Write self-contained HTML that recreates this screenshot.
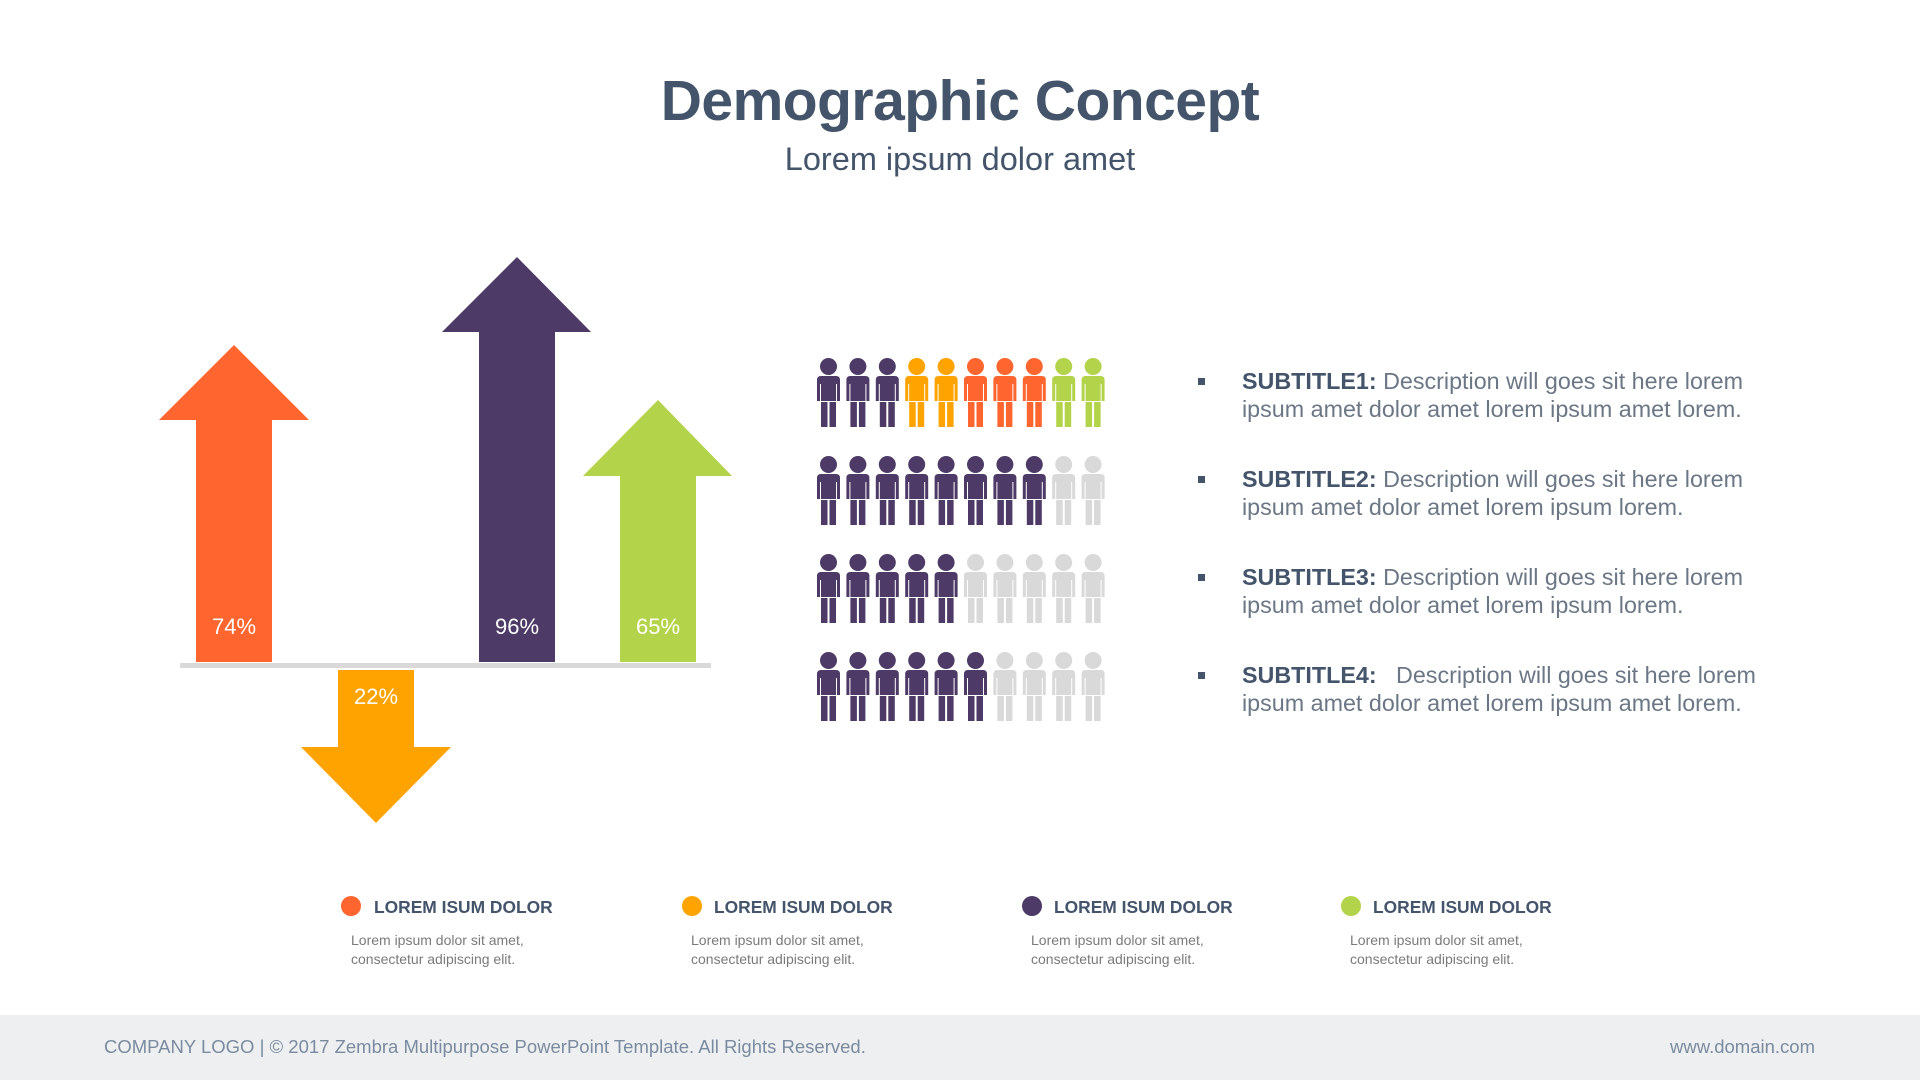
<!DOCTYPE html>
<html><head><meta charset="utf-8"><style>
body{margin:0;width:1920px;height:1080px;background:#fff;position:relative;overflow:hidden;font-family:"Liberation Sans",sans-serif;}
.a{position:absolute}
h1{position:absolute;top:68px;left:0;width:1920px;text-align:center;margin:0;font-size:57px;color:#44546a;font-weight:bold;letter-spacing:-0.5px}
.sub{top:141px;left:0;width:1920px;text-align:center;font-size:32.5px;color:#44546a}
.b{left:1242px;width:560px;font-size:23.3px;line-height:28px;color:#6b7785}
.b b{color:#44546a}
.sq{left:1198px;width:7px;height:7px;background:#44546a}
.lt{font-size:17.4px;font-weight:bold;color:#44546a}
.ld{font-size:14px;line-height:19px;color:#7a7a7a}
.dot{width:20px;height:20px;border-radius:50%}
.pct{color:#fff;font-size:22px;width:76px;text-align:center}
</style></head><body>
<h1>Demographic Concept</h1>
<div class="a sub">Lorem ipsum dolor amet</div>

<svg class="a" style="left:0;top:0" width="1920" height="1080">
<defs>
<g id="p"><circle cx="11.5" cy="8.5" r="8.5"/><path d="M4 18h15q4 0 4 4v21h-3v-17h-1v17h-15v-17h-1v17h-3v-21q0-4 4-4z"/><rect x="4" y="44" width="6.5" height="25"/><rect x="12.5" y="44" width="6.5" height="25"/></g>
</defs>
<polygon fill="#ff652f" points="234,345 309,420 272,420 272,662 196,662 196,420 159,420"/>
<polygon fill="#4d3a66" points="517,257 591,332 555,332 555,662 479,662 479,332 442,332"/>
<polygon fill="#b3d34a" points="658,400 732,476 696,476 696,662 620,662 620,476 583,476"/>
<polygon fill="#ffa300" points="338,670 414,670 414,747 451,747 376,823 301,747 338,747"/>
<rect x="180" y="663" width="531" height="5" fill="#d9d9d9"/>
<g id="rows"></g>
</svg>
<div class="a pct" style="left:196px;top:614px">74%</div>
<div class="a pct" style="left:479px;top:614px">96%</div>
<div class="a pct" style="left:620px;top:614px">65%</div>
<div class="a pct" style="left:338px;top:684px">22%</div>

<div class="a sq" style="top:378px"></div>
<div class="a b" style="top:367px"><b>SUBTITLE1:</b> Description will goes sit here lorem ipsum amet dolor amet lorem ipsum amet lorem.</div>
<div class="a sq" style="top:476px"></div>
<div class="a b" style="top:465px"><b>SUBTITLE2:</b> Description will goes sit here lorem ipsum amet dolor amet lorem ipsum lorem.</div>
<div class="a sq" style="top:574px"></div>
<div class="a b" style="top:563px"><b>SUBTITLE3:</b> Description will goes sit here lorem ipsum amet dolor amet lorem ipsum lorem.</div>
<div class="a sq" style="top:672px"></div>
<div class="a b" style="top:661px"><b>SUBTITLE4:</b>&nbsp;&nbsp; Description will goes sit here lorem ipsum amet dolor amet lorem ipsum amet lorem.</div>

<div class="a dot" style="left:341px;top:896px;background:#ff652f"></div>
<div class="a lt" style="left:374px;top:897px">LOREM ISUM DOLOR</div>
<div class="a ld" style="left:351px;top:931px">Lorem ipsum dolor sit amet,<br>consectetur adipiscing elit.</div>
<div class="a dot" style="left:682px;top:896px;background:#ffa300"></div>
<div class="a lt" style="left:714px;top:897px">LOREM ISUM DOLOR</div>
<div class="a ld" style="left:691px;top:931px">Lorem ipsum dolor sit amet,<br>consectetur adipiscing elit.</div>
<div class="a dot" style="left:1022px;top:896px;background:#4d3a66"></div>
<div class="a lt" style="left:1054px;top:897px">LOREM ISUM DOLOR</div>
<div class="a ld" style="left:1031px;top:931px">Lorem ipsum dolor sit amet,<br>consectetur adipiscing elit.</div>
<div class="a dot" style="left:1341px;top:896px;background:#b3d34a"></div>
<div class="a lt" style="left:1373px;top:897px">LOREM ISUM DOLOR</div>
<div class="a ld" style="left:1350px;top:931px">Lorem ipsum dolor sit amet,<br>consectetur adipiscing elit.</div>

<div class="a" style="left:0;top:1015px;width:1920px;height:65px;background:#eeeff1"></div>
<div class="a" style="left:104px;top:1036px;font-size:18.5px;color:#7a8ba0">COMPANY LOGO | © 2017 Zembra Multipurpose PowerPoint Template. All Rights Reserved.</div>
<div class="a" style="right:105px;top:1036px;font-size:18.5px;color:#7a8ba0">www.domain.com</div>

<script>
var P="#4d3a66",Y="#ffa300",O="#ff652f",G="#b3d34a",L="#d9d9d9";
var rows=[[P,P,P,Y,Y,O,O,O,G,G],[P,P,P,P,P,P,P,P,L,L],[P,P,P,P,P,L,L,L,L,L],[P,P,P,P,P,P,L,L,L,L]];
var g=document.getElementById("rows"),s="";
rows.forEach(function(r,i){r.forEach(function(c,j){s+='<use href="#p" fill="'+c+'" transform="translate('+(817+j*29.4)+','+(358+i*98)+')"/>';});});
g.innerHTML=s;
</script>
</body></html>
